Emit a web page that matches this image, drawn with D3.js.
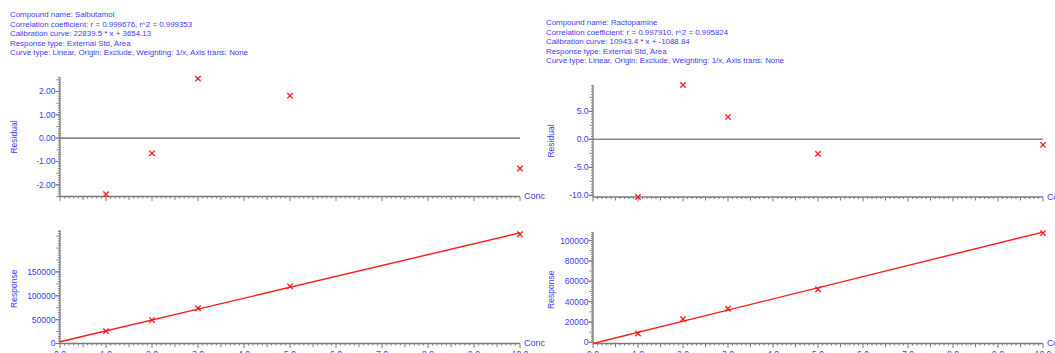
<!DOCTYPE html>
<html><head><meta charset="utf-8">
<script src="https://cdn.jsdelivr.net/npm/d3@7"></script>
<style>
body{margin:0;background:#fff;}
svg{display:block;font-family:"Liberation Sans",Arial,sans-serif;}
</style></head>
<body>
<svg id="chart" width="1055" height="353"></svg>
<script>
// ---- data ----
const concentrations = [1, 2, 3, 5, 10];
const xTickValues = [0,1,2,3,4,5,6,7,8,9,10];
const xTickLabels = ["0.0","1.0","2.0","3.0","4.0","5.0","6.0","7.0","8.0","9.0","10.0"];

const salbutamolInfo = [
  "Compound name: Salbutamol",
  "Correlation coefficient: r = 0.999676, r^2 = 0.999353",
  "Calibration curve: 22839.5 * x + 3654.13",
  "Response type: External Std, Area",
  "Curve type: Linear, Origin: Exclude, Weighting: 1/x, Axis trans: None"
];
const salbutamolResidual = [-2.40, -0.65, 2.55, 1.82, -1.30];
const salbutamolResponse = [25950, 49040, 73920, 119930, 229080];
const salbutamolFit = [22839.5, 3654.13];           // slope, intercept
const salbutamolResidualTicks = [-2, -1, 0, 1, 2];
const salbutamolResidualLabels = ["-2.00","-1.00","0.00","1.00","2.00"];
const salbutamolResponseTicks = [0, 50000, 100000, 150000];
const salbutamolResponseLabels = ["0","50000","100000","150000"];

const ractopamineInfo = [
  "Compound name: Ractopamine",
  "Correlation coefficient: r = 0.997910, r^2 = 0.995824",
  "Calibration curve: 10943.4 * x + -1088.84",
  "Response type: External Std, Area",
  "Curve type: Linear, Origin: Exclude, Weighting: 1/x, Axis trans: None"
];
const ractopamineResidual = [-10.3, 9.7, 4.0, -2.6, -1.0];
const ractopamineResponse = [8730, 22920, 33060, 52210, 107250];
const ractopamineFit = [10943.4, -1088.84];
const ractopamineResidualTicks = [-10, -5, 0, 5];
const ractopamineResidualLabels = ["-10.0","-5.0","0.0","5.0"];
const ractopamineResponseTicks = [0, 20000, 40000, 60000, 80000, 100000];
const ractopamineResponseLabels = ["0","20000","40000","60000","80000","100000"];

// ---- drawing ----
const BLUE = "#3b3bff", AXIS = "#7a7a7a", RED = "#ff1a1a";
const svg = d3.select("#chart");

function minorTicks(domain, step){
  const out = [];
  const s = Math.ceil(domain[0]/step - 1e-9), e = Math.floor(domain[1]/step + 1e-9);
  for (let i = s; i <= e; i++) out.push(+(i*step).toFixed(6));
  return out;
}

function yAxis(g, y, x0, major, labels, minor, mid){
  const [d0, d1] = y.domain();
  g.append("line").attr("x1", x0).attr("x2", x0).attr("y1", y(d0)).attr("y2", y(d1))
    .attr("stroke", AXIS).attr("stroke-width", 1.3);
  const isMul = (v, s) => Math.abs(v/s - Math.round(v/s)) < 1e-6;
  g.selectAll(null).data(minorTicks([d0, d1], minor)).enter().append("line")
    .attr("x1", d => x0 - (isMul(d, mid) ? 3.5 : 2)).attr("x2", x0)
    .attr("y1", d => y(d)).attr("y2", d => y(d))
    .attr("stroke", AXIS).attr("stroke-width", 1);
  g.selectAll(null).data(major).enter().append("line")
    .attr("x1", x0 - 4.5).attr("x2", x0).attr("y1", d => y(d)).attr("y2", d => y(d))
    .attr("stroke", AXIS).attr("stroke-width", 1.2);
  g.selectAll(null).data(major).enter().append("text")
    .attr("x", x0 - 4.5).attr("y", d => y(d)).attr("dy", "0.35em")
    .attr("text-anchor", "end").attr("font-size", 8.5).attr("fill", BLUE)
    .text((d, i) => labels[i]);
}

function xAxis(g, x, yPos, showLabels){
  const [d0, d1] = x.domain();
  g.append("line").attr("x1", x(d0)).attr("x2", x(d1)).attr("y1", yPos).attr("y2", yPos)
    .attr("stroke", AXIS).attr("stroke-width", 1.3);
  const isMul = (v, s) => Math.abs(v/s - Math.round(v/s)) < 1e-6;
  g.selectAll(null).data(minorTicks([d0, d1], 0.1)).enter().append("line")
    .attr("x1", d => x(d)).attr("x2", d => x(d)).attr("y1", yPos)
    .attr("y2", d => yPos + (isMul(d, 1) ? 4.5 : isMul(d, 0.5) ? 3.5 : 2))
    .attr("stroke", AXIS).attr("stroke-width", 1);
  g.append("text").attr("x", x(d1) + 4).attr("y", yPos).attr("dy", "0.3em")
    .attr("font-size", 9).attr("fill", BLUE).text("Conc");
  if (showLabels){
    g.selectAll(null).data(xTickValues).enter().append("text")
      .attr("x", d => x(d)).attr("y", yPos + 7.5).attr("dy", "0.75em")
      .attr("text-anchor", "middle").attr("font-size", 8.5).attr("fill", BLUE)
      .text((d, i) => xTickLabels[i]);
  }
}

function crosses(g, x, y, xs, ys){
  g.selectAll(null).data(xs.map((c, i) => [c, ys[i]])).enter().append("path")
    .attr("d", d => {
      const px = x(d[0]), py = y(d[1]), r = 2.7;
      return `M${px-r},${py-r}L${px+r},${py+r}M${px-r},${py+r}L${px+r},${py-r}`;
    })
    .attr("stroke", RED).attr("stroke-width", 1.3).attr("fill", "none");
}

function panel(cfg){
  const g = svg.append("g");
  // info text
  g.selectAll(null).data(cfg.info).enter().append("text")
    .attr("x", cfg.textX).attr("y", (d, i) => cfg.textY + i * 9.5)
    .attr("font-size", 7.9).attr("fill", BLUE).text(d => d);

  const x = d3.scaleLinear().domain([0, 10]).range([cfg.x0, cfg.x1]);

  // Residual plot
  const yr = d3.scaleLinear().domain(cfg.resDomain).range(cfg.resRange);
  g.append("line").attr("x1", x(0)).attr("x2", x(10)).attr("y1", yr(0)).attr("y2", yr(0))
    .attr("stroke", "#8a8a8a").attr("stroke-width", 1.6);
  yAxis(g, yr, cfg.x0, cfg.resTicks, cfg.resLabels, cfg.resMinor, cfg.resMid);
  xAxis(g, x, cfg.resRange[0], false);
  crosses(g, x, yr, concentrations, cfg.residual);
  g.append("text").attr("transform", `translate(${cfg.labelX},${(cfg.resRange[0]+cfg.resRange[1])/2}) rotate(-90)`)
    .attr("text-anchor", "middle").attr("font-size", 8.5).attr("fill", BLUE).text("Residual");

  // Response plot
  const ys = d3.scaleLinear().domain(cfg.rspDomain).range(cfg.rspRange);
  yAxis(g, ys, cfg.x0, cfg.rspTicks, cfg.rspLabels, cfg.rspMinor, cfg.rspMid);
  xAxis(g, x, cfg.rspRange[0], true);
  const line = d3.line().x(d => x(d)).y(d => ys(cfg.fit[0] * d + cfg.fit[1]));
  g.append("path").datum([0, 10]).attr("d", line)
    .attr("stroke", RED).attr("stroke-width", 1.4).attr("fill", "none");
  crosses(g, x, ys, concentrations, cfg.response);
  g.append("text").attr("transform", `translate(${cfg.labelX},${(cfg.rspRange[0]+cfg.rspRange[1])/2 + 2}) rotate(-90)`)
    .attr("text-anchor", "middle").attr("font-size", 8.5).attr("fill", BLUE).text("Response");
}

panel({
  info: salbutamolInfo, textX: 10, textY: 17,
  x0: 60, x1: 520, labelX: 17,
  residual: salbutamolResidual, resDomain: [-2.5, 2.6], resRange: [196.5, 77.5],
  resTicks: salbutamolResidualTicks, resLabels: salbutamolResidualLabels, resMinor: 0.1, resMid: 0.5,
  response: salbutamolResponse, rspDomain: [0, 238000], rspRange: [343.5, 230],
  rspTicks: salbutamolResponseTicks, rspLabels: salbutamolResponseLabels, rspMinor: 5000, rspMid: 25000,
  fit: salbutamolFit
});
panel({
  info: ractopamineInfo, textX: 546, textY: 25,
  x0: 593, x1: 1043, labelX: 554,
  residual: ractopamineResidual, resDomain: [-10.3, 9.7], resRange: [197, 85],
  resTicks: ractopamineResidualTicks, resLabels: ractopamineResidualLabels, resMinor: 0.5, resMid: 2.5,
  response: ractopamineResponse, rspDomain: [-1100, 108400], rspRange: [343.5, 232],
  rspTicks: ractopamineResponseTicks, rspLabels: ractopamineResponseLabels, rspMinor: 2000, rspMid: 10000,
  fit: ractopamineFit
});
</script>
</body></html>
